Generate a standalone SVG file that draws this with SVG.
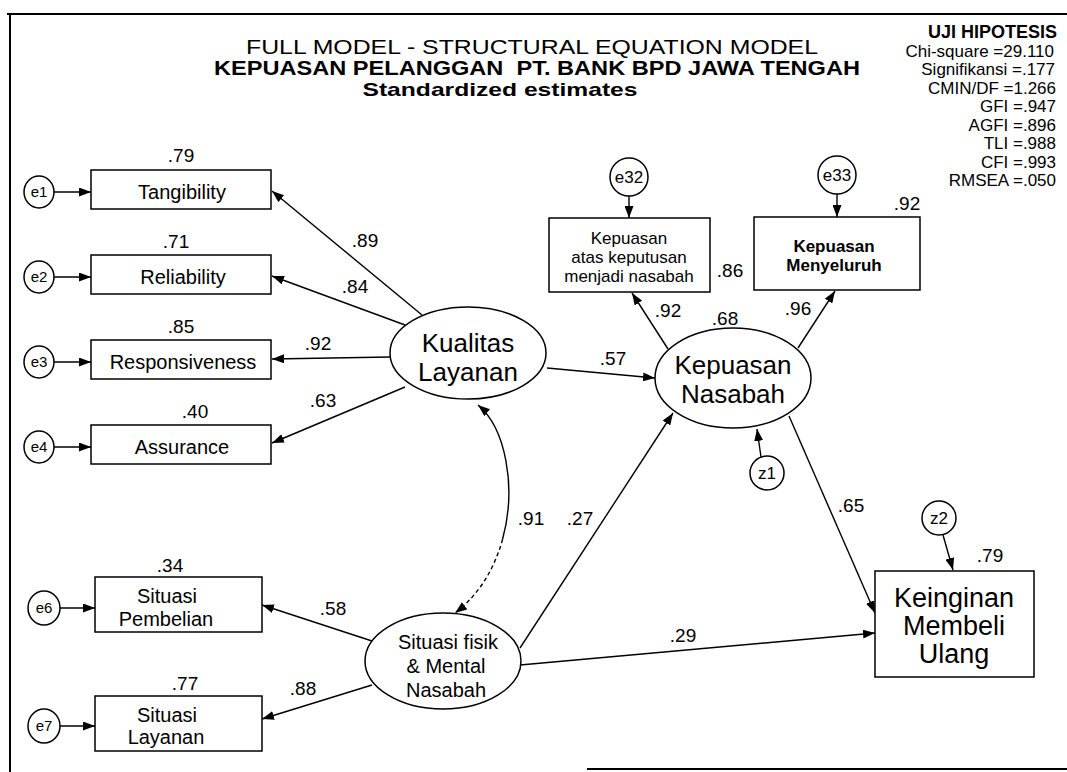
<svg xmlns="http://www.w3.org/2000/svg" width="1067" height="772" viewBox="0 0 1067 772">
<style>
text{font-family:"Liberation Sans",Arial,sans-serif;fill:#000}
.t1{font-size:21px}
.tb{font-size:21px;font-weight:bold}
.st{font-size:17px;text-anchor:end}
.stb{font-size:18px;font-weight:bold;text-anchor:end}
.lbl{font-size:19px;text-anchor:middle}
.box{fill:#fff;stroke:#000;stroke-width:1.5}
.ell{fill:#fff;stroke:#000;stroke-width:1.5}
.bt{font-size:20px;text-anchor:middle}
.et{font-size:15px;text-anchor:middle}
.ct{font-size:17px;text-anchor:middle}
.lv{font-size:26px;text-anchor:middle}
.conn line,.conn path{stroke:#000;stroke-width:1.4;fill:none}
.a{marker-end:url(#ah)}
.frame{stroke:#000;stroke-width:2}
</style>
<defs>
<marker id="ah" markerUnits="userSpaceOnUse" markerWidth="13" markerHeight="9" refX="12" refY="4.5" orient="auto-start-reverse">
<path d="M0,0 L12,4.5 L0,9 z" fill="#000"/>
</marker>
</defs>
<rect width="1067" height="772" fill="#fff"/>
<g id="frame">
<line class="frame" x1="7" y1="14" x2="1067" y2="14"/>
<line class="frame" x1="10" y1="14" x2="10" y2="772"/>
<line class="frame" x1="587" y1="769" x2="1067" y2="769"/>
</g>
<g id="title">
<text class="t1" x="532" y="54" text-anchor="middle" textLength="572" lengthAdjust="spacingAndGlyphs">FULL MODEL - STRUCTURAL EQUATION MODEL</text>
<text class="tb" x="537" y="75" text-anchor="middle" textLength="646" lengthAdjust="spacingAndGlyphs" xml:space="preserve">KEPUASAN PELANGGAN  PT. BANK BPD JAWA TENGAH</text>
<text class="tb" x="500" y="96" text-anchor="middle" style="font-size:19px" textLength="275" lengthAdjust="spacingAndGlyphs">Standardized estimates</text>
</g>
<g id="fit-stats">
<text class="stb" x="1057" y="38">UJI HIPOTESIS</text>
<text class="st" x="1054" y="57">Chi-square =29.110</text>
<text class="st" x="1055" y="75">Signifikansi =.177</text>
<text class="st" x="1056" y="94">CMIN/DF =1.266</text>
<text class="st" x="1056" y="112">GFI =.947</text>
<text class="st" x="1056" y="131">AGFI =.896</text>
<text class="st" x="1056" y="149">TLI =.988</text>
<text class="st" x="1056" y="168">CFI =.993</text>
<text class="st" x="1056" y="186">RMSEA =.050</text>
</g>
<g class="conn" id="connectors">
<line class="a" x1="54" y1="192" x2="91" y2="192"/>
<line class="a" x1="54" y1="277" x2="91" y2="277"/>
<line class="a" x1="54" y1="362" x2="91" y2="362"/>
<line class="a" x1="54" y1="447" x2="91" y2="447"/>
<line class="a" x1="60" y1="608" x2="95" y2="608"/>
<line class="a" x1="60" y1="726" x2="95" y2="726"/>
<line class="a" x1="422" y1="315" x2="272" y2="191"/>
<line class="a" x1="405" y1="325" x2="272" y2="276"/>
<line class="a" x1="390" y1="357" x2="272" y2="359"/>
<line class="a" x1="405" y1="387" x2="272" y2="443"/>
<line class="a" x1="547" y1="368" x2="655" y2="378"/>
<line class="a" x1="668" y1="349" x2="632" y2="293"/>
<line class="a" x1="798" y1="348" x2="835" y2="291"/>
<line class="a" x1="629" y1="196" x2="629" y2="218"/>
<line class="a" x1="837" y1="194" x2="837" y2="217"/>
<line class="a" x1="761" y1="457" x2="757" y2="429"/>
<line class="a" x1="789" y1="416" x2="875" y2="613"/>
<line class="a" x1="943" y1="535" x2="953" y2="570"/>
<line class="a" x1="520" y1="665" x2="875" y2="633"/>
<line class="a" x1="520" y1="648" x2="673" y2="413"/>
<line class="a" x1="372" y1="641" x2="262" y2="605"/>
<line class="a" x1="372" y1="685" x2="262" y2="719"/>
<path d="M478 405 C505.3 427.75 516.97 486.41 502.57 539.24" style="marker-start:url(#ah)"/>
<path d="M502.57 539.24 C494.81 567.69 479.5 594.45 455 613" style="marker-end:url(#ah);stroke-dasharray:4 3"/>
</g>
<g id="e1"><ellipse class="ell" cx="39" cy="192" rx="15" ry="16"/><text class="et" x="39" y="197">e1</text></g>
<g id="e2"><ellipse class="ell" cx="39" cy="277" rx="15" ry="16"/><text class="et" x="39" y="282">e2</text></g>
<g id="e3"><ellipse class="ell" cx="39" cy="362" rx="15" ry="16"/><text class="et" x="39" y="367">e3</text></g>
<g id="e4"><ellipse class="ell" cx="39" cy="447" rx="15" ry="16"/><text class="et" x="39" y="452">e4</text></g>
<g id="e6"><ellipse class="ell" cx="44" cy="608" rx="16" ry="17"/><text class="et" x="44" y="613">e6</text></g>
<g id="e7"><ellipse class="ell" cx="44" cy="726" rx="16" ry="17"/><text class="et" x="44" y="731">e7</text></g>
<g id="tangibility"><rect class="box" x="91" y="170" width="180" height="39"/><text class="bt" x="182" y="199">Tangibility</text></g>
<g id="reliability"><rect class="box" x="91" y="255" width="180" height="39"/><text class="bt" x="183" y="284">Reliability</text></g>
<g id="responsiveness"><rect class="box" x="91" y="340" width="180" height="39"/><text class="bt" x="183" y="369">Responsiveness</text></g>
<g id="assurance"><rect class="box" x="91" y="425" width="180" height="39"/><text class="bt" x="182" y="454">Assurance</text></g>
<g id="situasi-pembelian"><rect class="box" x="95" y="577" width="167" height="55"/><text class="bt" x="167" y="603">Situasi</text><text class="bt" x="166" y="626">Pembelian</text></g>
<g id="situasi-layanan"><rect class="box" x="95" y="696" width="167" height="55"/><text class="bt" x="167" y="722">Situasi</text><text class="bt" x="166" y="744">Layanan</text></g>
<g id="kualitas-layanan"><ellipse class="ell" cx="468" cy="353" rx="78" ry="46"/><text class="lv" x="468" y="352">Kualitas</text><text class="lv" x="468" y="381">Layanan</text></g>
<g id="kepuasan-nasabah"><ellipse class="ell" cx="733" cy="378" rx="78" ry="50"/><text class="lv" x="733" y="374">Kepuasan</text><text class="lv" x="733" y="403">Nasabah</text></g>
<g id="situasi-fisik"><ellipse class="ell" cx="443" cy="661" rx="78" ry="48"/><text class="bt" x="448" y="649">Situasi fisik</text><text class="bt" x="446" y="673">&amp; Mental</text><text class="bt" x="446" y="697">Nasabah</text></g>
<g id="e32"><circle class="ell" cx="629" cy="177" r="19"/><text class="ct" x="629" y="183">e32</text></g>
<g id="e33"><circle class="ell" cx="837" cy="175" r="19"/><text class="ct" x="837" y="181">e33</text></g>
<g id="z1"><circle class="ell" cx="767" cy="473" r="17"/><text class="ct" x="767" y="479">z1</text></g>
<g id="z2"><circle class="ell" cx="939" cy="518" r="17"/><text class="ct" x="939" y="524">z2</text></g>
<g id="kepuasan-keputusan"><rect class="box" x="549" y="218" width="161" height="74"/><text class="ct" x="629" y="244">Kepuasan</text><text class="ct" x="629" y="263">atas keputusan</text><text class="ct" x="629" y="282">menjadi nasabah</text></g>
<g id="kepuasan-menyeluruh"><rect class="box" x="754" y="217" width="166" height="73"/><text class="ct" x="834" y="252" style="font-weight:bold">Kepuasan</text><text class="ct" x="834" y="271" style="font-weight:bold">Menyeluruh</text></g>
<g id="keinginan"><rect class="box" x="875" y="571" width="159" height="106"/><text class="lv" x="954" y="607" style="font-size:27px">Keinginan</text><text class="lv" x="954" y="635" style="font-size:27px">Membeli</text><text class="lv" x="954" y="663" style="font-size:27px">Ulang</text></g>
<g id="estimates">
<text class="lbl" x="181" y="162">.79</text>
<text class="lbl" x="176" y="248">.71</text>
<text class="lbl" x="181" y="333">.85</text>
<text class="lbl" x="195" y="418">.40</text>
<text class="lbl" x="365" y="247">.89</text>
<text class="lbl" x="355" y="293">.84</text>
<text class="lbl" x="318" y="350">.92</text>
<text class="lbl" x="323" y="407">.63</text>
<text class="lbl" x="613" y="365">.57</text>
<text class="lbl" x="668" y="317">.92</text>
<text class="lbl" x="725" y="325">.68</text>
<text class="lbl" x="730" y="277">.86</text>
<text class="lbl" x="907" y="210">.92</text>
<text class="lbl" x="798" y="315">.96</text>
<text class="lbl" x="851" y="512">.65</text>
<text class="lbl" x="990" y="562">.79</text>
<text class="lbl" x="531" y="525">.91</text>
<text class="lbl" x="580" y="525">.27</text>
<text class="lbl" x="683" y="642">.29</text>
<text class="lbl" x="333" y="615">.58</text>
<text class="lbl" x="303" y="695">.88</text>
<text class="lbl" x="170" y="572">.34</text>
<text class="lbl" x="185" y="690">.77</text>
</g>
</svg>
